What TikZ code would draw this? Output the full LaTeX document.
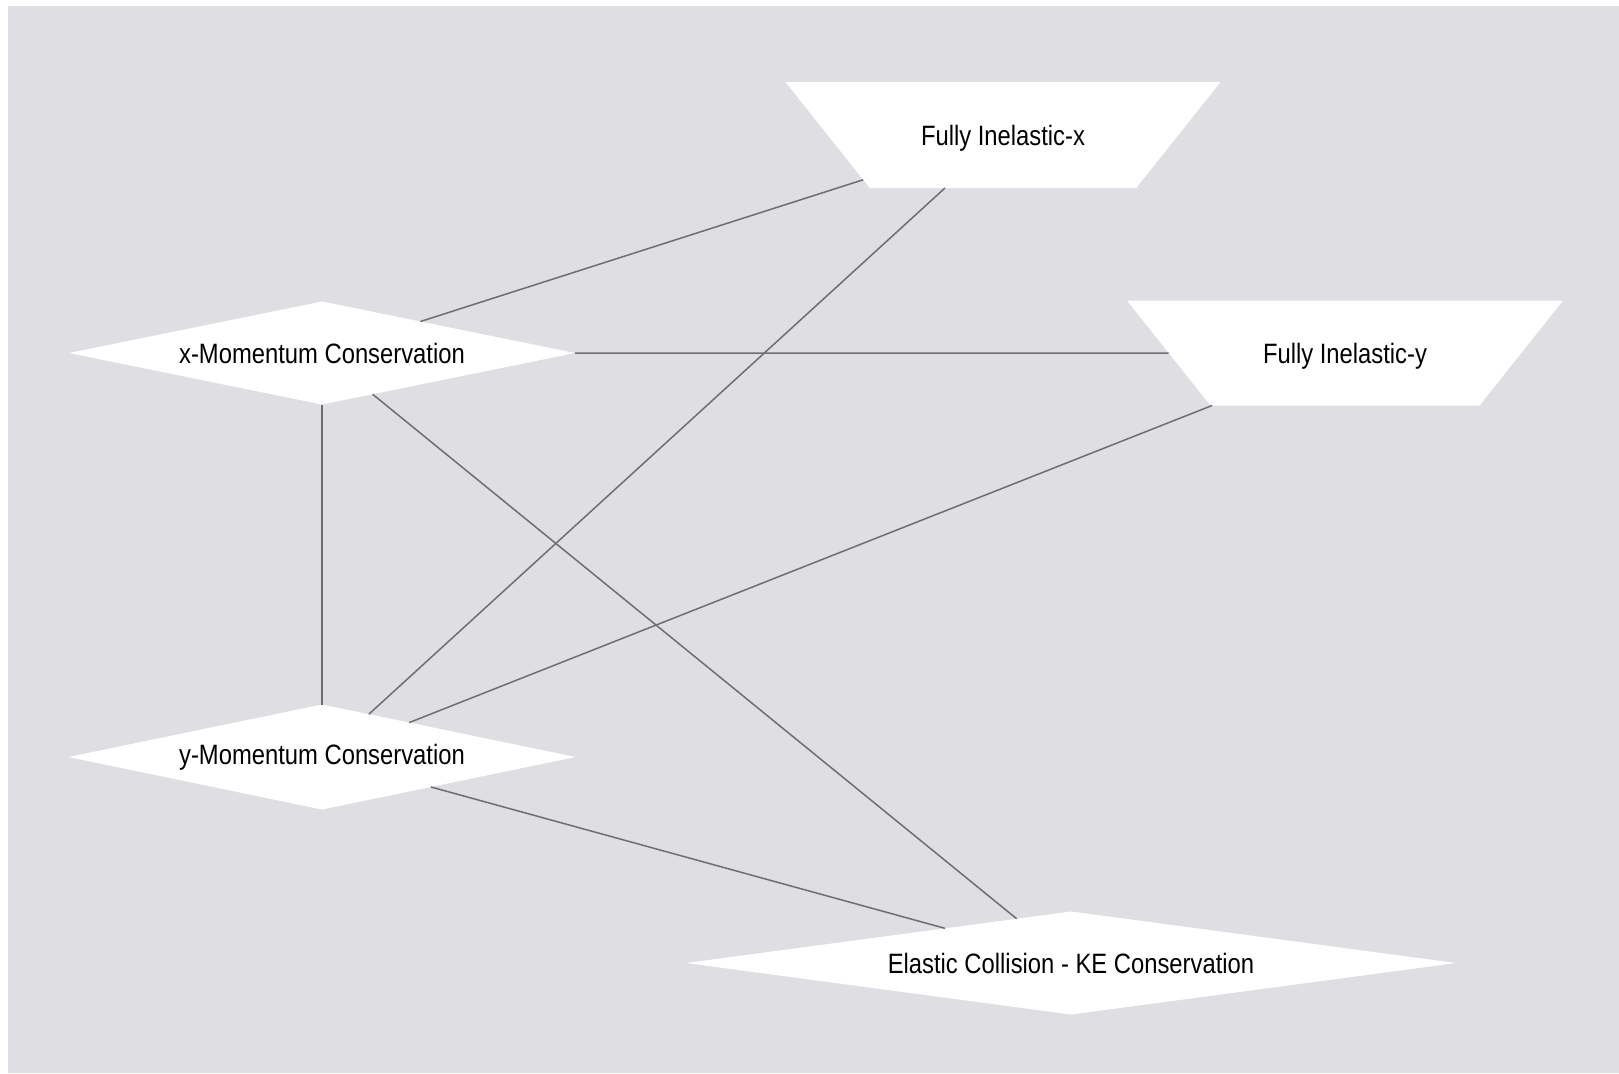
\documentclass[tikz,border=0pt]{standalone}
\usepackage{fontspec}
\usetikzlibrary{shapes.geometric}
\newfontfamily\labelfont[FakeStretch=0.85]{Liberation Sans}
\definecolor{canvas}{RGB}{223,222,227}
\definecolor{edgegray}{RGB}{110,110,114}
\tikzset{
  concept/.style={diamond, fill=white, draw=none, inner sep=0pt, outer sep=0pt,
    shape aspect=6, font=\labelfont\fontsize{14pt}{16pt}\selectfont},
  % inverted trapezium: the text box fixes the short side and the height,
  % the 51.5 degree sides widen it towards the top
  outcome/.style={trapezium, trapezium left angle=51.5, trapezium right angle=51.5,
    shape border rotate=180,
    fill=white, draw=none, inner sep=0pt, outer sep=0pt,
    font=\labelfont\fontsize{14pt}{16pt}\selectfont},
  link/.style={draw=edgegray, line width=0.75pt}
}
\begin{document}
\begin{tikzpicture}[x=0.5pt, y=-0.5pt]
  % page and canvas
  \useasboundingbox (0,0) rectangle (1619,1073);
  \fill[white] (0,0) rectangle (1619,1073);
  \fill[canvas] (8,6) rectangle (1619,1073);

  % nodes
  \node[concept, minimum width=253pt, minimum height=51.5pt] (xm) at (322,353) {x-Momentum Conservation};
  \node[concept, minimum width=253.5pt, minimum height=52.5pt] (ym) at (322,757) {y-Momentum Conservation};
  \node[concept, minimum width=385pt, minimum height=51.5pt] (el) at (1071,963) {Elastic Collision - KE Conservation};
  \node[outcome, text height=31.5pt, text depth=21.5pt] (fx) at (1003,135) {\makebox[133.2pt]{Fully Inelastic-x}};
  \node[outcome, text height=31.25pt, text depth=21.25pt] (fy) at (1345,353) {\makebox[134.5pt]{Fully Inelastic-y}};

  % connectors
  \draw[link] (xm) -- (fx);
  \draw[link] (xm) -- (fy);
  \draw[link] (xm) -- (el);
  \draw[link] (xm) -- (ym);
  \draw[link] (fx) -- (ym);
  \draw[link] (fy) -- (ym);
  \draw[link] (ym) -- (el);
\end{tikzpicture}
\end{document}
